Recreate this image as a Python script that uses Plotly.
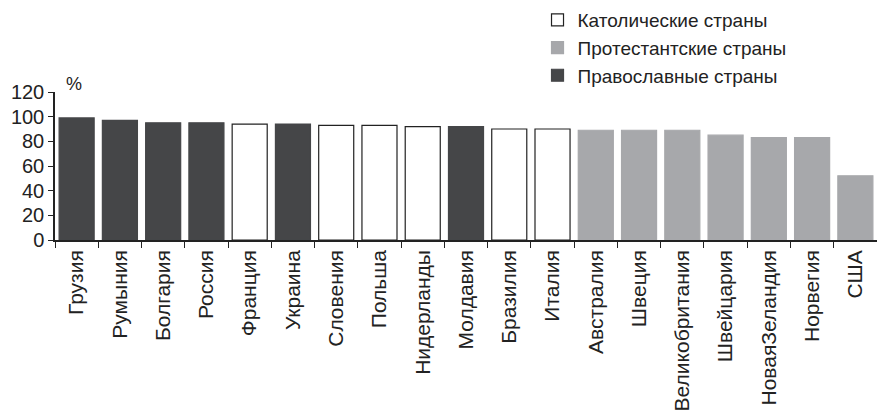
import plotly.graph_objects as go

countries = ["Грузия", "Румыния", "Болгария", "Россия", "Франция", "Украина",
             "Словения", "Польша", "Нидерланды", "Молдавия", "Бразилия", "Италия",
             "Австралия", "Швеция", "Великобритания", "Швейцария", "НоваяЗеландия",
             "Норвегия", "США"]
values = [99, 97, 95, 95, 94, 94, 93, 93, 92, 92, 90, 90, 89, 89, 89, 85, 83, 83, 52]
groups = ["pr", "pr", "pr", "pr", "c", "pr", "c", "c", "c", "pr", "c", "c",
          "p", "p", "p", "p", "p", "p", "p"]

series = [
    ("c", "Католические страны", "white", "#222222"),
    ("p", "Протестантские страны", "#a7a8ab", "#a7a8ab"),
    ("pr", "Православные страны", "#454648", "#454648"),
]

fig = go.Figure()
for key, name, fill, line in series:
    xs = [c for c, g in zip(countries, groups) if g == key]
    ys = [v for v, g in zip(values, groups) if g == key]
    fig.add_trace(go.Bar(x=xs, y=ys, name=name,
                         marker=dict(color=fill, line=dict(color=line, width=1.2))))

font = "Liberation Sans, Arial, sans-serif"
fig.update_layout(
    width=877, height=413,
    margin=dict(l=55, r=0, t=92, b=173, autoexpand=False),
    plot_bgcolor="white", paper_bgcolor="white",
    barmode="overlay", bargap=0.19,
    font=dict(family=font, color="#222222"),
    legend=dict(x=0.587, y=1.615, xanchor="left", yanchor="top",
                font=dict(size=19, family=font, color="#222222"),
                traceorder="normal", tracegroupgap=0),
    xaxis=dict(categoryorder="array", categoryarray=countries,
               tickangle=-90, tickfont=dict(size=21), automargin=False,
               showline=True, linecolor="#222222", linewidth=1.5,
               ticks="outside", tickson="boundaries", ticklen=6,
               tickcolor="#222222", showgrid=False),
    yaxis=dict(range=[0, 120], tickvals=[0, 20, 40, 60, 80, 100, 120],
               tickfont=dict(size=20), showline=True, linecolor="#222222",
               automargin=False,
               linewidth=1.5, ticks="outside", ticklen=5, tickcolor="#222222",
               showgrid=False, zeroline=False),
    annotations=[dict(text="%", x=0.011, y=0.975, xref="paper", yref="paper",
                      xanchor="left", yanchor="bottom", showarrow=False,
                      font=dict(size=18, family=font, color="#222222"))],
)

# the page body has a default 8px margin; remove it so the figure sits at 0,0
fig.write_html("out.html", config={"displayModeBar": False},
               post_script="document.body.style.margin='0px';")
